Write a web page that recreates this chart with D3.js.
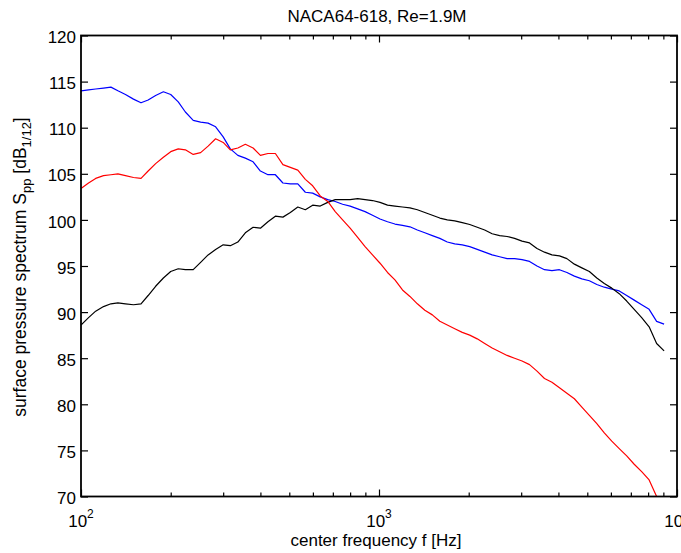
<!DOCTYPE html>
<html>
<head>
<meta charset="utf-8">
<script src="https://cdn.jsdelivr.net/npm/d3@7/dist/d3.min.js"></script>
<style>
  html, body { margin: 0; padding: 0; background: #fff; }
  svg { display: block; font-family: "Liberation Sans", Arial, Helvetica, sans-serif; }
</style>
</head>
<body>
<svg id="chart" width="681" height="553"></svg>
<script>
// 1/12-octave band centre frequencies [Hz]
const freqs = [100, 106, 112, 119, 126, 133, 141, 150, 159, 168, 178, 189, 200, 212, 224, 238,
  252, 267, 283, 300, 317, 336, 356, 378, 400, 424, 449, 476, 504, 534, 566, 599, 635, 673,
  713, 755, 800, 848, 898, 951, 1008, 1068, 1131, 1199, 1270, 1345, 1425, 1510, 1600, 1695,
  1796, 1903, 2016, 2136, 2263, 2397, 2540, 2691, 2851, 3020, 3200, 3390, 3592, 3805, 4032,
  4271, 4525, 4794, 5080, 5382, 5702, 6041, 6400, 6780, 7184, 7611, 8063, 8543, 9051];

// Surface pressure spectra [dB, 1/12 octave]
const spectrumBlue = [114.0, 114.1, 114.2, 114.3, 114.4, 114.0, 113.6, 113.1, 112.7, 113.0,
  113.5, 113.9, 113.6, 112.8, 111.7, 110.8, 110.6, 110.5, 110.1, 109.0, 107.7, 107.0, 106.7,
  106.3, 105.3, 104.9, 104.9, 104.0, 103.9, 103.9, 103.0, 102.9, 102.5, 102.2, 102.0, 101.7,
  101.5, 101.2, 100.9, 100.5, 100.1, 99.8, 99.55, 99.4, 99.25, 98.9, 98.6, 98.3, 98.0, 97.6,
  97.4, 97.3, 97.1, 96.8, 96.5, 96.2, 96.0, 95.8, 95.8, 95.7, 95.5, 95.0, 94.6, 94.5, 94.6,
  94.3, 93.9, 93.6, 93.4, 93.0, 92.7, 92.5, 92.3, 91.8, 91.3, 90.8, 90.3, 89.0, 88.7];

const spectrumBlack = [88.6, 89.4, 90.1, 90.6, 90.9, 91.0, 90.9, 90.8, 90.9, 91.8, 92.8,
  93.7, 94.4, 94.7, 94.6, 94.6, 95.4, 96.2, 96.8, 97.3, 97.2, 97.6, 98.6, 99.2, 99.1, 99.8,
  100.4, 100.3, 100.8, 101.4, 101.1, 101.6, 101.5, 101.9, 102.2, 102.2, 102.2, 102.3, 102.2,
  102.1, 101.9, 101.6, 101.5, 101.4, 101.3, 101.1, 100.8, 100.5, 100.2, 100.0, 99.9, 99.7,
  99.5, 99.2, 98.9, 98.5, 98.3, 98.2, 98.0, 97.7, 97.5, 96.9, 96.5, 96.2, 96.1, 95.8, 95.2,
  94.8, 94.4, 93.7, 93.1, 92.6, 92.0, 91.2, 90.3, 89.4, 88.4, 86.6, 85.8];

const spectrumRed = [103.4, 104.0, 104.5, 104.8, 104.9, 105.0, 104.8, 104.6, 104.5, 105.3,
  106.1, 106.8, 107.4, 107.7, 107.6, 107.1, 107.3, 108.0, 108.8, 108.4, 107.6, 107.8, 108.2,
  107.8, 107.0, 107.2, 107.2, 106.0, 105.7, 105.4, 104.4, 103.7, 102.6, 102.0, 100.9, 100.0,
  99.1, 98.1, 97.1, 96.2, 95.3, 94.3, 93.5, 92.4, 91.7, 90.9, 90.2, 89.7, 89.0, 88.6, 88.2,
  87.8, 87.5, 87.1, 86.6, 86.1, 85.7, 85.3, 85.0, 84.7, 84.3, 83.6, 82.8, 82.4, 81.8, 81.2,
  80.6, 79.7, 78.8, 77.9, 76.9, 76.0, 75.2, 74.4, 73.5, 72.7, 71.8, 70.0, 68.0];

const seriesColors = ["#0000ff", "#000000", "#ff0000"];
const yTicks = [70, 75, 80, 85, 90, 95, 100, 105, 110, 115, 120];
const xMajorTicks = [100, 1000, 10000];
const xMinorTicks = [200, 300, 400, 500, 600, 700, 800, 900,
  2000, 3000, 4000, 5000, 6000, 7000, 8000, 9000];
const xTickExponents = ["2", "3", "4"];

const titleText = "NACA64-618, Re=1.9M";
const xLabelText = "center frequency f [Hz]";

const svg = d3.select("#chart");
const plotLeft = 81, plotRight = 677, plotTop = 35.5, plotBottom = 496.5;
const fs = 17;

const x = d3.scaleLog().domain([100, 10000]).range([plotLeft, plotRight]);
const y = d3.scaleLinear().domain([70, 120]).range([plotBottom, plotTop]);

svg.append("defs").append("clipPath").attr("id", "plotArea")
  .append("rect").attr("x", plotLeft).attr("y", plotTop)
  .attr("width", plotRight - plotLeft).attr("height", plotBottom - plotTop);

// curves
const line = d3.line().x((d, i) => x(freqs[i])).y(d => y(d));
const series = [spectrumBlue, spectrumBlack, spectrumRed];
svg.append("g").attr("clip-path", "url(#plotArea)")
  .selectAll("path").data(series).join("path")
  .attr("d", d => line(d))
  .attr("fill", "none")
  .attr("stroke", (d, i) => seriesColors[i])
  .attr("stroke-width", 1.2)
  .attr("stroke-linejoin", "round");

function styleAxis(g) {
  g.select(".domain").remove();
  g.selectAll(".tick line").attr("stroke", "#000").attr("stroke-width", 1.2);
  g.selectAll(".tick text").attr("fill", "#000").attr("font-size", fs)
    .attr("font-family", "Liberation Sans, Arial, sans-serif");
}

// y axes (left with labels, right ticks only)
svg.append("g").attr("transform", `translate(${plotLeft},0)`)
  .call(d3.axisLeft(y).tickValues(yTicks).tickSize(-7).tickPadding(5).tickFormat(d3.format("d")))
  .call(styleAxis)
  .call(g => g.selectAll(".tick text").attr("dy", "0.42em"));
svg.append("g").attr("transform", `translate(${plotRight},0)`)
  .call(d3.axisRight(y).tickValues(yTicks).tickSize(-7).tickFormat(""))
  .call(styleAxis);

// x axes: majors and minors, bottom and top
svg.append("g").attr("transform", `translate(0,${plotBottom})`)
  .call(d3.axisBottom(x).tickValues(xMajorTicks).tickSize(-7).tickFormat(""))
  .call(styleAxis);
svg.append("g").attr("transform", `translate(0,${plotBottom})`)
  .call(d3.axisBottom(x).tickValues(xMinorTicks).tickSize(-4).tickFormat(""))
  .call(styleAxis);
svg.append("g").attr("transform", `translate(0,${plotTop})`)
  .call(d3.axisTop(x).tickValues(xMajorTicks).tickSize(-7).tickFormat(""))
  .call(styleAxis);
svg.append("g").attr("transform", `translate(0,${plotTop})`)
  .call(d3.axisTop(x).tickValues(xMinorTicks).tickSize(-4).tickFormat(""))
  .call(styleAxis);

// x tick labels as powers of ten
const xl = svg.append("g").selectAll("text").data(xMajorTicks).join("text")
  .attr("x", d => x(d))
  .attr("y", 527)
  .attr("text-anchor", "middle")
  .attr("font-size", fs)
  .attr("fill", "#000");
xl.append("tspan").text("10");
xl.append("tspan").attr("font-size", 12).attr("dy", -9).text((d, i) => xTickExponents[i]);

// frame
svg.append("rect")
  .attr("x", plotLeft).attr("y", plotTop)
  .attr("width", plotRight - plotLeft).attr("height", plotBottom - plotTop)
  .attr("fill", "none").attr("stroke", "#000").attr("stroke-width", 1.8);

// title
svg.append("text")
  .attr("x", (plotLeft + plotRight) / 2 - 2).attr("y", 22)
  .attr("text-anchor", "middle").attr("font-size", fs).attr("fill", "#000")
  .text(titleText);

// x label
svg.append("text")
  .attr("x", (plotLeft + plotRight) / 2 - 3).attr("y", 546)
  .attr("text-anchor", "middle").attr("font-size", fs).attr("fill", "#000")
  .text(xLabelText);

// y label with subscripts
const yl = svg.append("text")
  .attr("transform", `translate(25.5,${(plotTop + plotBottom) / 2 + 1}) rotate(-90)`)
  .attr("text-anchor", "middle").attr("font-size", 17.5).attr("fill", "#000");
yl.append("tspan").text("surface pressure spectrum S");
yl.append("tspan").attr("font-size", 13).attr("dy", 5).text("pp");
yl.append("tspan").attr("dy", -5).text(" [dB");
yl.append("tspan").attr("font-size", 13).attr("dy", 5).text("1/12");
yl.append("tspan").attr("dy", -5).text("]");
</script>
</body>
</html>
